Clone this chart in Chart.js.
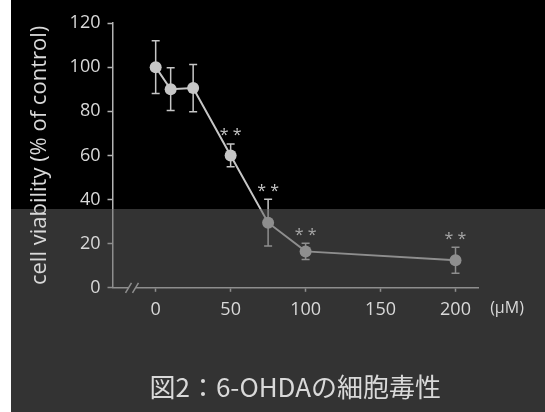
<!DOCTYPE html>
<html>
<head>
<meta charset="utf-8">
<script src="https://cdn.jsdelivr.net/npm/chart.js@4/dist/chart.umd.min.js"></script>
<style>
  html, body { margin: 0; padding: 0; background: #fff; }
  #wrap {
    position: absolute; left: 11px; top: 0; width: 534px; height: 412px;
    background: linear-gradient(to bottom, #000 0, #000 209px, #333 209px, #333 100%);
  }
  canvas { display: block; }
</style>
</head>
<body>
<div id="wrap"><canvas id="c" width="534" height="412"></canvas></div>
<script>
// 6-OHDA concentration (µM) and cell viability (% of control, mean ± SD)
const doses = [0, 10, 25, 50, 75, 100, 200];
const viability = [100, 90, 90.5, 60, 29.5, 16.5, 12.5];
const sd = [12, 9.7, 10.7, 5.2, 10.6, 3.7, 5.9];
const significance = ['', '', '', '* *', '* *', '* *', '* *'];
const xTickValues = [0, 50, 100, 150, 200];
const yTickValues = [0, 20, 40, 60, 80, 100, 120];
const unitLabel = '(\u03bcM)';
const titleText = '図2：6-OHDAの細胞毒性';
const yTitle = 'cell viability (% of control)';

const canvas = document.getElementById('c');
const ctx = canvas.getContext('2d');
const SPLIT = 209; // where the black band meets the grey band

// colour that switches at the band boundary
function splitGradient(upper, lower) {
  const g = ctx.createLinearGradient(0, 0, 0, canvas.height);
  const t = SPLIT / canvas.height;
  g.addColorStop(0, upper);
  g.addColorStop(t, upper);
  g.addColorStop(t, lower);
  g.addColorStop(1, lower);
  return g;
}
const markColor = splitGradient('#c6c6c6', '#8e8e8e');
const starColor = splitGradient('#c6c6c6', '#a8a8a8');
const axisColor = splitGradient('#b4b4b4', '#8e8e8e');
const textColor = '#d9d9d9';

const extras = {
  id: 'extras',
  beforeDatasetsDraw(chart) {
    const { ctx, scales: { x, y } } = chart;
    ctx.save();
    ctx.strokeStyle = markColor;
    ctx.lineWidth = 1.5;
    doses.forEach((d, i) => {
      const px = x.getPixelForValue(d);
      const top = y.getPixelForValue(viability[i] + sd[i]);
      const bot = y.getPixelForValue(viability[i] - sd[i]);
      ctx.beginPath();
      ctx.moveTo(px, top); ctx.lineTo(px, bot);
      ctx.moveTo(px - 4, top); ctx.lineTo(px + 4, top);
      ctx.moveTo(px - 4, bot); ctx.lineTo(px + 4, bot);
      ctx.stroke();
    });
    ctx.restore();
  },
  afterDatasetsDraw(chart) {
    const { ctx, scales: { x, y }, chartArea } = chart;
    ctx.save();
    // significance markers above the error bars
    ctx.fillStyle = starColor;
    ctx.font = '16px "Open Sans"';
    ctx.textAlign = 'center';
    ctx.textBaseline = 'middle';
    doses.forEach((d, i) => {
      if (!significance[i]) return;
      const px = x.getPixelForValue(d);
      const top = y.getPixelForValue(viability[i] + sd[i]);
      ctx.fillText(significance[i], px, top - 8);
    });
    // axis break on the x axis
    const ay = y.getPixelForValue(0);
    const b1 = chartArea.left + 16, b2 = chartArea.left + 23;
    ctx.fillStyle = '#333';
    ctx.fillRect(b1, ay - 2, b2 - b1, 4);
    ctx.strokeStyle = axisColor;
    ctx.lineWidth = 1.5;
    ctx.beginPath();
    [b1, b2].forEach(bx => { ctx.moveTo(bx - 3, ay + 5); ctx.lineTo(bx + 3, ay - 5); });
    ctx.stroke();
    // unit label beside the x tick labels
    ctx.fillStyle = textColor;
    ctx.font = '16px "Open Sans"';
    ctx.textAlign = 'center';
    ctx.textBaseline = 'middle';
    ctx.fillText(unitLabel, chartArea.right + 29, ay + 21);
    ctx.restore();
  }
};

new Chart(ctx, {
  type: 'scatter',
  data: {
    datasets: [{
      data: doses.map((d, i) => ({ x: d, y: viability[i] })),
      showLine: true,
      borderColor: markColor,
      borderWidth: 2,
      backgroundColor: markColor,
      pointBackgroundColor: markColor,
      pointBorderColor: markColor,
      pointBorderWidth: 0,
      pointRadius: 6
    }]
  },
  options: {
    responsive: false,
    animation: false,
    events: [],
    layout: { padding: { left: 0, right: 67, top: 23, bottom: 0 } },
    plugins: {
      legend: { display: false },
      tooltip: { enabled: false },
      title: {
        display: true,
        position: 'bottom',
        fullSize: false,
        text: titleText,
        color: textColor,
        font: { family: '"Noto Sans CJK JP"', size: 26, weight: 'normal' },
        padding: { top: 0, bottom: 9 }
      }
    },
    scales: {
      x: {
        type: 'linear',
        min: -28.8,
        max: 215,
        afterBuildTicks: s => { s.ticks = xTickValues.map(v => ({ value: v })); },
        afterFit: s => { s.height = 84; },
        grid: { drawOnChartArea: false, drawTicks: true, tickLength: 4, tickColor: axisColor, tickWidth: 1.5 },
        border: { display: true, color: axisColor, width: 1.5 },
        ticks: { color: textColor, padding: 7, font: { family: '"Open Sans"', size: 18 }, maxRotation: 0, autoSkip: false }
      },
      y: {
        min: 0,
        max: 120,
        afterBuildTicks: s => { s.ticks = yTickValues.map(v => ({ value: v })); },
        afterFit: s => { s.width = 101.5; },
        grid: { drawOnChartArea: false, drawTicks: true, tickLength: 5, tickColor: axisColor, tickWidth: 1.5 },
        border: { display: true, color: axisColor, width: 1.5 },
        ticks: { color: textColor, padding: 7, font: { family: '"Open Sans"', size: 18 } },
        title: {
          display: true,
          text: yTitle,
          color: textColor,
          font: { family: '"Open Sans"', size: 22 },
          padding: { top: 16, bottom: 0 }
        }
      }
    }
  },
  plugins: [extras]
});
</script>
</body>
</html>
